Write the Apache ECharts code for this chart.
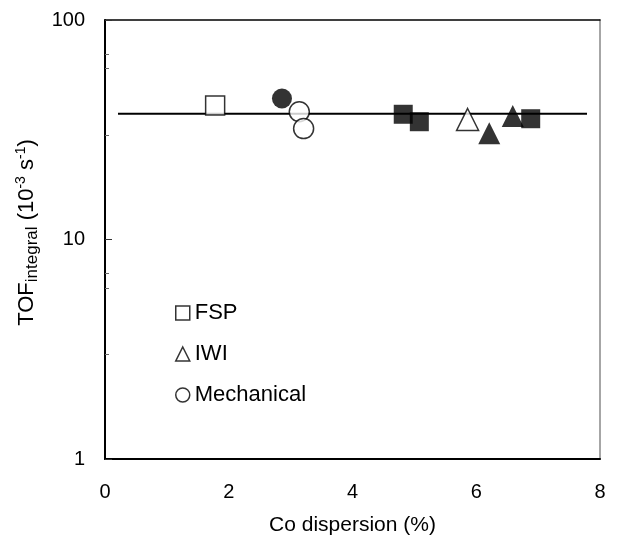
<!DOCTYPE html>
<html>
<head>
<meta charset="utf-8">
<script src="https://cdn.jsdelivr.net/npm/echarts@6/dist/echarts.min.js"></script>
<style>html,body{margin:0;padding:0;background:#fff}#c{width:629px;height:541px}</style>
</head>
<body>
<div id="c"></div>
<script>
// Data (Co dispersion %, TOF integral 10^-3 s^-1)
const fspOpen = [[1.78, 40.8]];
const fspFilled = [[4.82, 37.2], [5.08, 34.4], [6.88, 35.5]];
const iwiOpen = [[5.86, 35.2]];
const iwiFilled = [[6.21, 30.5], [6.59, 36.5]];
const mechFilled = [[2.86, 43.9]];
const mechOpen = [[3.14, 38.2], [3.21, 32.0]];
const fitLine = [[0.21, 37.4], [7.79, 37.4]];
const xTicks = [0, 2, 4, 6, 8];
const yMajorTicks = [1, 10, 100];
const yMinorTicks = [3, 6, 7, 30, 60, 70];
const legendNames = ['FSP', 'IWI', 'Mechanical'];

const FONT = 'Liberation Sans, Arial, sans-serif';
const chart = echarts.init(document.getElementById('c'), null, {renderer: 'canvas'});

const openStyle = {color: '#fff', borderColor: '#000', borderWidth: 1.5};
const filledStyle = {color: '#000', borderColor: '#000', borderWidth: 0};

function sc(name, data, symbol, size, style) {
  return {
    type: 'scatter', name: name, data: data, symbol: symbol, symbolSize: size,
    itemStyle: style, z: 5, emphasis: {disabled: true}, animation: false
  };
}

chart.setOption({
  animation: false,
  backgroundColor: '#fff',
  textStyle: {fontFamily: FONT},
  grid: {left: 105, right: 29, top: 20, bottom: 81, containLabel: false},
  legend: {
    orient: 'vertical', left: 175, top: 302, itemGap: 19,
    itemWidth: 14, itemHeight: 14, padding: 0,
    selectedMode: false,
    data: [
      {name: legendNames[0], icon: 'rect'},
      {name: legendNames[1], icon: 'triangle'},
      {name: legendNames[2], icon: 'circle'}
    ],
    itemStyle: {color: '#fff', borderColor: '#000', borderWidth: 1.5},
    textStyle: {fontSize: 22, color: '#000', fontFamily: FONT, padding: [0, 0, 0, 0]}
  },
  xAxis: [{
    type: 'value', min: xTicks[0], max: xTicks[xTicks.length - 1], interval: 2,
    position: 'bottom',
    name: 'Co dispersion (%)', nameLocation: 'middle', nameGap: 56,
    nameTextStyle: {fontSize: 21, color: '#000', fontFamily: FONT},
    axisLine: {lineStyle: {color: '#000', width: 2}},
    axisTick: {show: false},
    splitLine: {show: false},
    axisLabel: {fontSize: 20, color: '#000', margin: 23, fontFamily: FONT}
  }, {
    type: 'value', min: 0, max: 8, position: 'top',
    axisLine: {show: true, lineStyle: {color: '#000', width: 1.5}},
    axisTick: {show: false}, axisLabel: {show: false}, splitLine: {show: false}
  }],
  yAxis: [{
    type: 'log', logBase: 10, min: yMajorTicks[0], max: yMajorTicks[2],
    position: 'left',
    name: 'TOF{sub|integral} (10{sup|-3} s{sup|-1})',
    nameLocation: 'middle', nameGap: 63, nameRotate: 90,
    nameTextStyle: {
      fontSize: 22, color: '#000', fontFamily: FONT, lineHeight: 27,
      padding: [0, 0, 0, 14],
      rich: {
        sub: {fontSize: 17, fontFamily: FONT, color: '#000', verticalAlign: 'bottom', lineHeight: 25},
        sup: {fontSize: 14, fontFamily: FONT, color: '#000', verticalAlign: 'top', lineHeight: 27}
      }
    },
    axisLine: {lineStyle: {color: '#000', width: 2}},
    axisTick: {show: true, inside: true, length: 7, lineStyle: {color: '#333', width: 1}},
    splitLine: {show: false}, minorTick: {show: false},
    axisLabel: {fontSize: 20, color: '#000', margin: 20, fontFamily: FONT}
  }, {
    type: 'log', logBase: 10, min: 1, max: 100, position: 'left',
    axisLine: {show: false},
    axisTick: {show: true, inside: true, length: 4, customValues: yMinorTicks, lineStyle: {color: '#666', width: 1}},
    axisLabel: {show: false}, splitLine: {show: false}
  }, {
    type: 'log', logBase: 10, min: 1, max: 100, position: 'right',
    axisLine: {show: true, lineStyle: {color: '#888', width: 1.5}},
    axisTick: {show: false}, axisLabel: {show: false}, splitLine: {show: false}
  }],
  series: [
    {
      type: 'line', name: 'fit', data: fitLine, symbol: 'none', z: 2,
      lineStyle: {color: '#000', width: 2}, silent: true, animation: false
    },
    sc('FSP', fspOpen, 'rect', 19, openStyle),
    sc('FSP', fspFilled, 'rect', 19, filledStyle),
    sc('IWI', iwiOpen, 'triangle', 22, openStyle),
    sc('IWI', iwiFilled, 'triangle', 22, filledStyle),
    sc('Mechanical', mechFilled, 'circle', 20, filledStyle),
    sc('Mechanical', mechOpen, 'circle', 20, openStyle)
  ]
});
</script>
</body>
</html>
